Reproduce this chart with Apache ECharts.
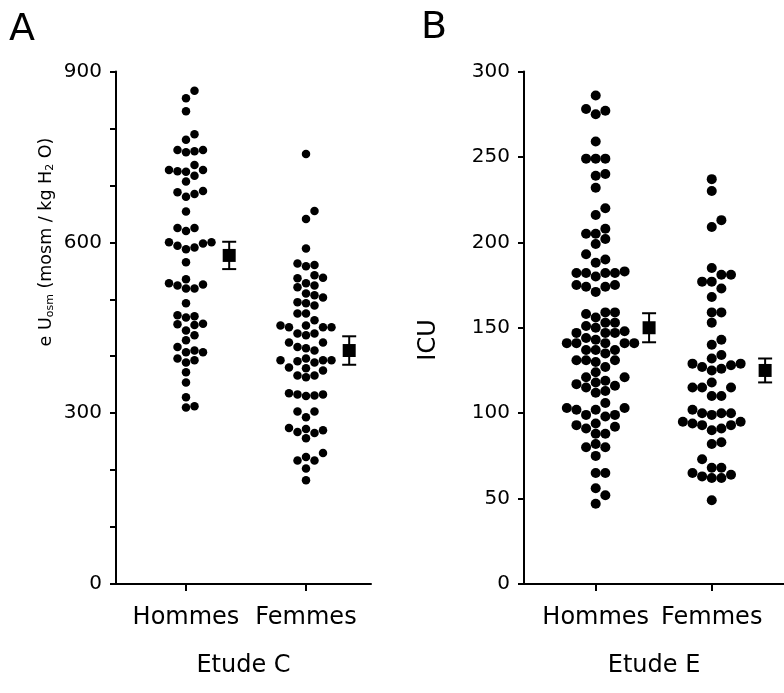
<!DOCTYPE html>
<html><head><meta charset="utf-8">
<script src="https://cdn.jsdelivr.net/npm/echarts@6/dist/echarts.min.js"></script>
<style>html,body{margin:0;padding:0;background:#fff}#c{width:784px;height:693px}</style>
</head><body><div id="c"></div>
<script>
// ---------- data ----------
const categories = ['Hommes', 'Femmes'];
const studyNames = ['Etude C', 'Etude E'];
const panelLetters = ['A', 'B'];

// Panel A : e Uosm (mosm / kg H2O)
const hommesC = [866,853,830,790,780,762,762,760,758,736,727,725,727,724,717,707,690,688,680,685,654,625,620,625,600,598,594,600,591,588,565,528,524,519,519,526,535,493,472,470,468,457,456,455,445,437,428,410,407,416,407,396,389,393,372,354,328,310,312];
const femmesC = [755,655,641,589,563,558,560,542,537,538,524,528,521,510,507,503,493,489,495,475,475,463,454,451,454,451,451,440,437,440,424,424,416,410,414,396,389,393,391,393,393,375,379,380,363,366,366,335,333,330,331,333,303,303,293,274,267,265,270,272,256,230,223,217,217,203,182];
const meansC = [577, 410];
const semC = [24, 25];

// Panel B : ICU
const hommesE = [286,278,277,275,259,249,249,249,240,239,232,220,216,208,205,205,202,199,193,190,188,182,182,180,182,182,183,175,174,171,174,175,159,158,156,159,153,151,150,147,147,147,148,153,144,143,141,141,141,141,141,137,137,137,135,131,130,131,131,127,124,121,118,116,115,117,119,121,113,112,106,103,102,99,98,99,102,103,93,91,88,88,92,94,82,80,75,80,65,65,56,52,47];
const femmesE = [237,230,213,209,185,181,177,177,181,173,168,159,159,153,143,140,134,132,129,127,125,126,128,129,118,115,115,115,110,110,100,99,100,100,102,94,93,93,95,95,90,91,83,82,73,68,65,63,62,62,64,68,49];
const meansE = [150, 125];
const semE = [8.5, 7];

const yMaxA = 900, yStepA = 100, yLabelStepA = 300;
const yMaxB = 300, yStepB = 50;

// ---------- layout ----------
const FONT = 'DejaVu Sans';
const panels = [
  {left:116, top:71.5, width:255, height:512.5, xMin:0.4167, pxX:120, yMax:yMaxA, yStep:yStepA, dot:8.5, step:8.5, meanOff:0.36,
   groups:[hommesC, femmesC], means:meansC, sems:semC},
  {left:524, top:71.5, width:270, height:512.5, xMin:0.382, pxX:120.5, yMax:yMaxB, yStep:yStepB, dot:10, step:10, meanOff:0.46,
   groups:[hommesE, femmesE], means:meansE, sems:semE}
];

function swarm(values, pxPerY, dot, step){
  const idx = values.map((v,i)=>i).sort((a,b)=>values[a]-values[b]);
  const placed = [], off = new Array(values.length);
  for (const i of idx){
    const y = values[i]*pxPerY;
    for (let n=0;n<60;n++){
      const k = n===0 ? 0 : (n%2 ? (n+1)/2 : -n/2);
      const x = k*step;
      if (!placed.some(p=>Math.abs(p[0]-x)<step*0.5 && Math.abs(p[1]-y)<dot)){
        placed.push([x,y]); off[i]=x; break;
      }
    }
  }
  return off;
}

const grid=[], xAxis=[], yAxis=[], series=[];
panels.forEach((p,pi)=>{
  const xMax = p.xMin + p.width/p.pxX;
  grid.push({left:p.left, top:p.top, width:p.width, height:p.height});
  xAxis.push({
    type:'value', gridIndex:pi, min:p.xMin, max:xMax,
    axisLine:{show:true, onZero:false, lineStyle:{color:'#000', width:2}},
    axisTick:{show:true, customValues:[1,2], length:7, lineStyle:{color:'#000', width:2}},
    axisLabel:{show:true, customValues:[1,2], formatter:v=>categories[Math.round(v)-1]||'', color:'#000', fontFamily:FONT, fontSize:24, margin:22},
    splitLine:{show:false},
    name:studyNames[pi], nameLocation:'middle', nameGap:70,
    nameTextStyle:{color:'#000', fontFamily:FONT, fontSize:24}
  });
  yAxis.push({
    type:'value', gridIndex:pi, min:0, max:p.yMax, interval:p.yStep,
    axisLine:{show:true, lineStyle:{color:'#000', width:2}},
    axisTick:{show:true, length:6, lineStyle:{color:'#000', width:2}},
    axisLabel:{color:'#000', fontFamily:FONT, fontSize:20, margin:14,
      formatter: pi===0 ? (v=>v%yLabelStepA===0?String(v):'') : (v=>String(v))},
    splitLine:{show:false}
  });
  const pxPerY = p.height/p.yMax;
  p.groups.forEach((vals,gi)=>{
    const off = swarm(vals, pxPerY, p.dot, p.step);
    series.push({
      type:'scatter', xAxisIndex:pi, yAxisIndex:pi, symbol:'circle', symbolSize:p.dot,
      itemStyle:{color:'#000', opacity:1}, silent:true, animation:false,
      data: vals.map((v,i)=>[gi+1+off[i]/p.pxX, v])
    });
  });
  series.push({
    type:'custom', xAxisIndex:pi, yAxisIndex:pi, animation:false, silent:true,
    data: p.means.map((m,gi)=>[gi+1+p.meanOff, m, p.sems[gi]]),
    encode:{x:0, y:1},
    renderItem:(params, api)=>{
      const x=api.value(0), m=api.value(1), e=api.value(2);
      const c=api.coord([x,m]), t=api.coord([x,m+e]), b=api.coord([x,m-e]);
      const cap=7, sq=6.5, st={stroke:'#000', lineWidth:2};
      return {type:'group', children:[
        {type:'line', shape:{x1:c[0],y1:t[1],x2:c[0],y2:b[1]}, style:st},
        {type:'line', shape:{x1:c[0]-cap,y1:t[1],x2:c[0]+cap,y2:t[1]}, style:st},
        {type:'line', shape:{x1:c[0]-cap,y1:b[1],x2:c[0]+cap,y2:b[1]}, style:st},
        {type:'rect', shape:{x:c[0]-sq,y:c[1]-sq,width:2*sq,height:2*sq}, style:{fill:'#000'}}
      ]};
    }
  });
});

const chart = echarts.init(document.getElementById('c'), null, {renderer:'canvas'});
chart.setOption({
  backgroundColor:'#fff', animation:false,
  grid, xAxis, yAxis, series,
  graphic:[
    {type:'text', left:9, top:11, style:{text:panelLetters[0], fontFamily:FONT, fontSize:38, fill:'#000'}},
    {type:'text', left:421, top:9, style:{text:panelLetters[1], fontFamily:FONT, fontSize:38, fill:'#000'}},
    {type:'text', x:46, y:242, rotation:Math.PI/2,
     style:{text:'e U{sub|osm} (mosm / kg H{sub|2} O)', fontFamily:FONT, fontSize:17.5, fill:'#000', align:'center', verticalAlign:'middle',
       rich:{sub:{fontSize:11, fontFamily:FONT, padding:[9,0,0,0]}}}},
    {type:'text', x:429, y:340, rotation:Math.PI/2,
     style:{text:'ICU', fontFamily:FONT, fontSize:24, fill:'#000', align:'center', verticalAlign:'middle'}}
  ]
});
</script>
</body></html>
